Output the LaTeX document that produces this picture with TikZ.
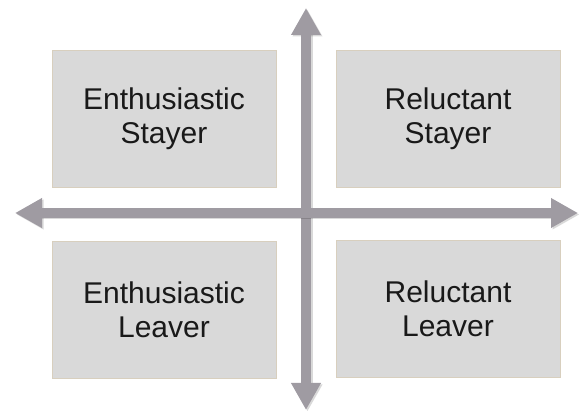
\documentclass[tikz,border=0pt]{standalone}
\usepackage{fontspec}
\setmainfont{Liberation Sans}
\usetikzlibrary{arrows.meta}
\definecolor{boxgray}{HTML}{D9D9D9}
\definecolor{boxedge}{HTML}{D8CFBE}
\definecolor{axisgray}{HTML}{9F9BA2}
\tikzset{
    quad/.style={fill=boxgray, draw=boxedge, line width=0.8pt,
        minimum width=224pt, minimum height=137pt, align=center,
        font=\fontsize{30}{34}\selectfont, text=black!90},
    axis/.style={axisgray, line width=10pt,
        {Triangle[width=28pt,length=27pt]}-{Triangle[width=28pt,length=27pt]}},
    axis shadow/.style={axis, black, opacity=0.15},
}

\begin{document}
\begin{tikzpicture}[x=1pt, y=-1pt]
\useasboundingbox (0,0) rectangle (579,411);

% the four quadrants
\node[quad] (es) at (164,119) {Enthusiastic\\Stayer};
\node[quad] (rs) at (448,119) {Reluctant\\Stayer};
\node[quad] (el) at (164,310) {Enthusiastic\\Leaver};
\node[quad] (rl) at (448,309) {Reluctant\\Leaver};

% axis ends
\coordinate (top) at (306,8);
\coordinate (bottom) at (306,410);
\coordinate (left) at (15,213);
\coordinate (right) at (578,213);

% axes, vertical one under the horizontal one
\draw[axis shadow, transform canvas={shift={(1.5pt,-1.5pt)}}] (top) -- (bottom);
\draw[axis] (top) -- (bottom);
\draw[axis shadow, transform canvas={shift={(1.5pt,-1.5pt)}}] (left) -- (right);
\draw[axis] (left) -- (right);
\end{tikzpicture}
\end{document}
